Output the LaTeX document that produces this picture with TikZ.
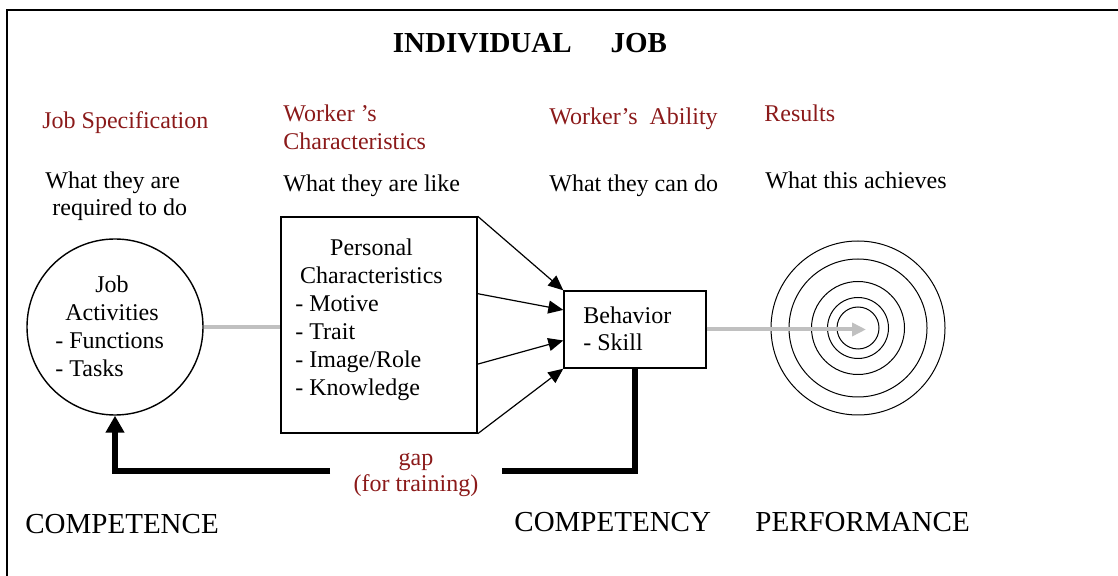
\documentclass[tikz,border=0pt]{standalone}
\usepackage{fontspec}
\setmainfont{Liberation Serif}
\usetikzlibrary{arrows.meta,calc,positioning}
\definecolor{headred}{RGB}{139,26,26}
\definecolor{linegray}{RGB}{192,192,192}

\begin{document}
\begin{tikzpicture}[x=0.5pt,y=-0.5pt,
  txt/.style={anchor=base west,inner sep=0pt,font=\fontsize{12}{14}\selectfont},
  head/.style={txt,text=headred},
  big/.style={txt,font=\fontsize{14.5}{17}\selectfont},
  box/.style={draw,line width=0.7pt,inner sep=0pt},
  feed/.style={line width=3pt},
  to/.style={-{Triangle[length=7.5pt,width=6.5pt]},line width=0.6pt}]
\useasboundingbox (0,0) rectangle (1118,576);
\draw[line width=1pt] (1118,10) -- (7,10) -- (7,576);

% column headings
\node[txt,anchor=base,font=\bfseries\fontsize{14.5}{17}\selectfont] (title) at (530,53) {INDIVIDUAL\hspace{19.5pt}JOB};
\node[head] (spec) at (42,129) {Job Specification};
\node[head] (wchar1) at (283,122) {Worker 's};
\node[head] (wchar2) at (283,150) {Characteristics};
\node[head] (abil) at (549,125) {Worker's\ \ Ability};
\node[head] (res) at (764,122) {Results};
\node[txt] (what1a) at (45,189) {What they are};
\node[txt] (what1b) at (52,216) {required to do};
\node[txt] (what2) at (283,192) {What they are like};
\node[txt] (what3) at (549,192) {What they can do};
\node[txt] (what4) at (765,189) {What this achieves};

% job activities
\node[box,circle,minimum size=88pt] (jobact) at (115,327) {};
\node[txt,anchor=base] (ja1) at (112,293) {Job};
\node[txt,anchor=base] (ja2) at (112,321) {Activities};
\node[txt] (ja3) at (55,349) {- Functions};
\node[txt] (ja4) at (55,377) {- Tasks};

% personal characteristics
\node[box,minimum width=98pt,minimum height=108pt] (pchar) at (379,325) {};
\node[txt,anchor=base] (pc0) at (371.5,256) {Personal};
\node[txt,anchor=base] (pcx) at (371.5,284) {Characteristics};
\foreach \t [count=\i] in {Motive,Trait,Image/Role,Knowledge}
  \node[txt] (pc\i) at (295,284+28*\i) {- \t};

% behavior
\node[box,minimum width=71pt,minimum height=38.5pt] (bhv) at (635,329.5) {};
\node[txt] (bh1) at (583,324) {Behavior};
\node[txt] (bh2) at (583,351) {- Skill};

\draw[linegray,line width=2pt] (jobact.east) -- (jobact.east -| pchar.west);
\foreach \a/\b in {0/0,0.356/0.25,0.68/0.64,1/1}
  \draw[to] ($(pchar.north east)!\a!(pchar.south east)$) -- ($(bhv.north west)!\b!(bhv.south west)$);

% target
\coordinate (tgt) at (858,328);
\coordinate (tip) at ($(tgt)+(8,0)$);
\foreach \r in {87,69,46.5,30.5,21}
  \draw[line width=0.5pt] (tgt) circle (\r);
\draw[linegray,line width=2pt,-{Triangle[length=7pt,width=6.5pt]}] (bhv.east) -- (bhv.east -| tip);

% gap loop back
\coordinate (gapR) at (502,471);
\coordinate (gapL) at (330,471);
\draw[feed] (bhv.south) |- (gapR);
\draw[feed,-{Triangle[length=8.5pt,width=9pt]}] (gapL) -| (jobact.south);
\node[head,anchor=base] (gap1) at (416,466) {gap};
\node[head,anchor=base] (gap2) at (416,492) {(for training)};

\node[big] (comp1) at (25,533) {COMPETENCE};
\node[big] (comp2) at (514,531) {COMPETENCY};
\node[big] (perf) at (755,531) {PERFORMANCE};
\end{tikzpicture}
\end{document}
